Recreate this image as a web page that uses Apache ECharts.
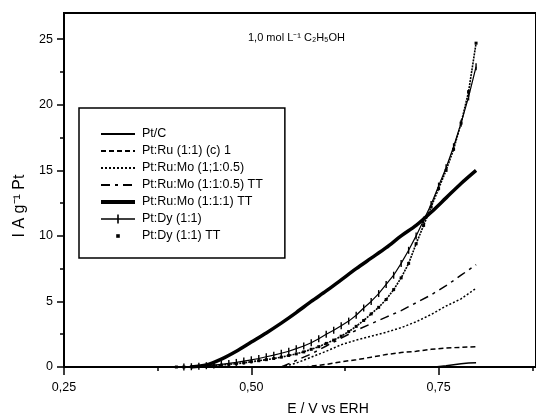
<!DOCTYPE html>
<html>
<head>
<meta charset="utf-8">
<script src="https://cdn.jsdelivr.net/npm/echarts@6/dist/echarts.min.js"></script>
<style>html,body{margin:0;padding:0;background:#fff}#c{width:536px;height:419px}</style>
</head>
<body>
<div id="c"></div>
<script>
// ---- data ----
const seriesNames = ['Pt/C','Pt:Ru (1:1) (c) 1','Pt:Ru:Mo (1;1:0.5)','Pt:Ru:Mo (1:1:0.5) TT','Pt:Ru:Mo (1:1:1) TT','Pt:Dy (1:1)','Pt:Dy (1:1) TT'];
const ptC = [[0.745,0],[0.76,0.1],[0.77,0.18],[0.78,0.25],[0.79,0.3],[0.80,0.32]];
const ptRu = [[0.57,0],[0.60,0.2],[0.62,0.4],[0.64,0.55],[0.66,0.75],[0.68,0.95],[0.70,1.1],[0.72,1.2],[0.74,1.35],[0.76,1.45],[0.78,1.5],[0.80,1.55]];
const ptRuMo05 = [[0.54,0],[0.56,0.3],[0.58,0.75],[0.60,1.2],[0.62,1.7],[0.64,2.05],[0.66,2.35],[0.68,2.65],[0.70,3.0],[0.72,3.45],[0.74,4.0],[0.76,4.65],[0.78,5.2],[0.80,6.0]];
const ptRuMo05TT = [[0.54,0],[0.56,0.5],[0.58,1.0],[0.60,1.6],[0.62,2.2],[0.64,2.8],[0.66,3.3],[0.68,3.8],[0.70,4.3],[0.72,4.9],[0.74,5.5],[0.76,6.2],[0.78,7.0],[0.80,7.8]];
const ptRuMo1TT = [[0.42,0],[0.44,0.15],[0.46,0.6],[0.48,1.2],[0.50,1.9],[0.52,2.6],[0.54,3.35],[0.56,4.15],[0.58,5.0],[0.60,5.8],[0.62,6.65],[0.64,7.5],[0.66,8.3],[0.68,9.1],[0.70,10.0],[0.72,10.8],[0.74,11.8],[0.76,12.9],[0.78,14.0],[0.80,15.0]];
const ptDy = [[0.41,0],[0.42,0.02],[0.43,0.05],[0.44,0.1],[0.45,0.15],[0.46,0.2],[0.47,0.27],[0.48,0.35],[0.49,0.45],[0.50,0.55],[0.51,0.65],[0.52,0.78],[0.53,0.9],[0.54,1.05],[0.55,1.2],[0.56,1.4],[0.57,1.6],[0.58,1.85],[0.59,2.15],[0.60,2.5],[0.61,2.8],[0.62,3.15],[0.63,3.5],[0.64,3.95],[0.65,4.5],[0.66,5.0],[0.67,5.6],[0.68,6.3],[0.69,7.0],[0.70,7.9],[0.71,8.9],[0.72,10.0],[0.73,11.2],[0.74,12.4],[0.75,13.8],[0.76,15.2],[0.77,16.8],[0.78,18.6],[0.79,20.6],[0.80,22.9]];
const ptDyTT = [[0.40,0],[0.41,0],[0.42,0.02],[0.43,0.05],[0.44,0.08],[0.45,0.1],[0.46,0.15],[0.47,0.2],[0.48,0.25],[0.49,0.32],[0.50,0.4],[0.51,0.48],[0.52,0.56],[0.53,0.65],[0.54,0.75],[0.55,0.88],[0.56,1.0],[0.57,1.15],[0.58,1.35],[0.59,1.55],[0.60,1.8],[0.61,2.05],[0.62,2.35],[0.63,2.7],[0.64,3.1],[0.65,3.55],[0.66,4.05],[0.67,4.55],[0.68,5.15],[0.69,5.9],[0.70,6.8],[0.71,7.9],[0.72,9.4],[0.73,10.8],[0.74,12.2],[0.75,13.6],[0.76,15.0],[0.77,16.6],[0.78,18.6],[0.79,21.0],[0.80,24.7]];
const xMajorTicks = [0.25, 0.50, 0.75];
const xMinorTicks = [0.375, 0.625, 0.875];
const yMajorTicks = [0, 5, 10, 15, 20, 25];
const yMinorTicks = [2.5, 7.5, 12.5, 17.5, 22.5];
const annotation = '1,0 mol L\u207B\u00B9 C\u2082H\u2085OH';
const xName = 'E / V vs ERH';
const yName = 'I A g\u207B\u00B9 Pt';

const FONT = 'Liberation Sans, Arial, sans-serif';
const chart = echarts.init(document.getElementById('c'), null, {renderer: 'canvas'});
const xBase = {type:'value', min:0.25, max:0.88, gridIndex:0, splitLine:{show:false}};
const yBase = {type:'value', min:0, max:27, gridIndex:0, splitLine:{show:false}};
const lineBase = {type:'line', xAxisIndex:0, yAxisIndex:0, symbol:'none', z:3, animation:false};
const tickPath = 'path://M0,0h1v5h-1z';
const legendTickIcon = 'path://M0,4.2h34v1.6h-34z M16.2,0.5h1.6v9h-1.6z';
const legendDotIcon = 'path://M0,0L0,0 M34,10L34,10 M15.2,3.2h3.6v3.6h-3.6z';
const noSym = {opacity:0};

chart.setOption({
  animation:false,
  backgroundColor:'#fff',
  grid:{left:64, top:13, width:475, height:354, show:true, borderColor:'#000', borderWidth:2, backgroundColor:'transparent'},
  title:{text:annotation, left:243, top:27, textStyle:{fontFamily:FONT, fontSize:11, fontWeight:'normal', color:'#000'}},
  graphic:[
    {type:'text', x:20, y:206, rotation:Math.PI/2, style:{text:yName, textAlign:'center', textVerticalAlign:'middle', font:'16px '+FONT, fill:'#000'}},
    {type:'text', x:328, y:409, style:{text:xName, textAlign:'center', textVerticalAlign:'middle', font:'14px '+FONT, fill:'#000'}}
  ],
  legend:{
    orient:'vertical', left:79, top:108,
    padding:[19,22,15,20], itemWidth:34, itemHeight:10, itemGap:3,
    borderColor:'#000', borderWidth:1.5, backgroundColor:'#fff',
    textStyle:{fontFamily:FONT, fontSize:12.5, lineHeight:14, color:'#000', padding:[0,0,0,2]},
    data:[
      {name:seriesNames[0], itemStyle:noSym},
      {name:seriesNames[1], itemStyle:noSym},
      {name:seriesNames[2], itemStyle:noSym},
      {name:seriesNames[3], itemStyle:noSym},
      {name:seriesNames[4], itemStyle:noSym, lineStyle:{width:4}},
      {name:seriesNames[5], icon:legendTickIcon},
      {name:seriesNames[6], icon:legendDotIcon}
    ]
  },
  xAxis:[
    Object.assign({}, xBase, {position:'bottom',
      axisLine:{show:true, onZero:false, lineStyle:{color:'#000', width:2}},
      axisTick:{show:true, length:8, customValues:xMajorTicks, lineStyle:{color:'#000', width:1.5}},
      axisLabel:{show:true, margin:14, customValues:xMajorTicks, formatter:v=>v.toFixed(2).replace('.',','), fontFamily:FONT, fontSize:12.5, color:'#000'}}),
    Object.assign({}, xBase, {position:'bottom',
      axisLine:{show:false},
      axisTick:{show:true, length:4, customValues:xMinorTicks, lineStyle:{color:'#000', width:1.5}},
      axisLabel:{show:false}})
  ],
  yAxis:[
    Object.assign({}, yBase, {position:'left',
      axisLine:{show:true, onZero:false, lineStyle:{color:'#000', width:2}},
      axisTick:{show:true, length:7, customValues:yMajorTicks, lineStyle:{color:'#000', width:1.5}},
      axisLabel:{show:true, margin:11, customValues:yMajorTicks, fontFamily:FONT, fontSize:12.5, color:'#000'}}),
    Object.assign({}, yBase, {position:'left',
      axisLine:{show:false},
      axisTick:{show:true, length:4, customValues:yMinorTicks, lineStyle:{color:'#000', width:1.5}},
      axisLabel:{show:false}})
  ],
  series:[
    Object.assign({}, lineBase, {name:seriesNames[0], data:ptC, lineStyle:{color:'#000', width:1.5, type:'solid'}, itemStyle:{color:'#000'}}),
    Object.assign({}, lineBase, {name:seriesNames[1], data:ptRu, lineStyle:{color:'#000', width:1.5, type:[5,3]}, itemStyle:{color:'#000'}}),
    Object.assign({}, lineBase, {name:seriesNames[2], data:ptRuMo05, lineStyle:{color:'#000', width:1.5, type:[2,2]}, itemStyle:{color:'#000'}}),
    Object.assign({}, lineBase, {name:seriesNames[3], data:ptRuMo05TT, lineStyle:{color:'#000', width:1.5, type:[9,5,3,5]}, itemStyle:{color:'#000'}}),
    Object.assign({}, lineBase, {name:seriesNames[4], data:ptRuMo1TT, smooth:0.3, lineStyle:{color:'#000', width:3.5, type:'solid'}, itemStyle:{color:'#000'}}),
    Object.assign({}, lineBase, {name:seriesNames[5], data:ptDy, symbol:tickPath, symbolKeepAspect:true, symbolSize:7, showSymbol:true, lineStyle:{color:'#000', width:1.2, type:'solid'}, itemStyle:{color:'#000'}}),
    Object.assign({}, lineBase, {name:seriesNames[6], data:ptDyTT, symbol:'rect', symbolSize:3, showSymbol:true, lineStyle:{color:'#000', width:1.6, type:[2,1]}, itemStyle:{color:'#000'}})
  ]
});
</script>
</body>
</html>
